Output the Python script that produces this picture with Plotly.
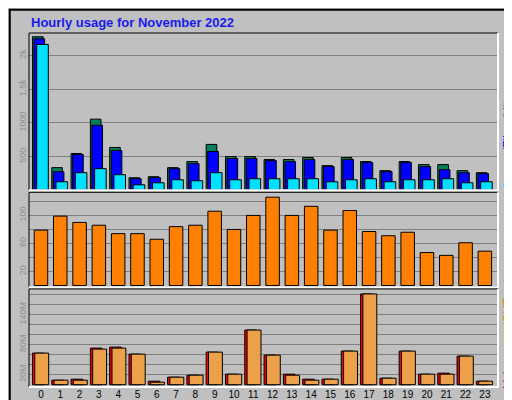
import plotly.graph_objects as go

hours = list(range(24))
hits = [2280,335,545,1055,635,185,200,335,425,680,500,500,455,455,485,365,485,425,290,425,380,380,290,260]
files = [2250,275,530,965,590,170,185,320,395,575,470,470,440,425,455,350,455,410,275,410,350,305,260,245]
pages = [2165,125,260,320,230,80,110,155,140,260,155,170,170,170,170,125,155,170,125,155,155,170,110,125]
sites = [79,99,90,86,74,74,66,84,86,106,80,100,126,100,113,79,107,77,71,76,47,43,61,49]
volume_mb = [63,9,11,73,75,61,7,15,19,65,21,109,59,21,11,11,67,181,13,67,21,23,57,7]
out_mb = [63,9,9,71,73,61,5,15,19,65,21,109,59,19,9,11,67,181,13,67,21,21,57,7]

fig = go.Figure()
ol = dict(color="black", width=1)
def bar(y, color, off, w, ax):
    fig.add_trace(go.Bar(x=hours, y=y, offset=off, width=w, marker=dict(color=color, line=ol),
                         xaxis="x" if ax == "y" else "x" + ax[1:], yaxis=ax, showlegend=False, hoverinfo="skip"))

bar(hits, "#00805c", -0.44, 0.55, "y")
bar(files, "#0000ff", -0.36, 0.55, "y")
bar(pages, "#00e0ff", -0.22, 0.6, "y")
bar(sites, "#ff8000", -0.35, 0.7, "y2")
bar(volume_mb, "#ff0000", -0.44, 0.6, "y3")
bar(out_mb, "#eda04a", -0.32, 0.72, "y3")

xr = [-0.62, 23.68]
gc = "#808080"
tf = dict(family="Liberation Sans", size=9, color="#909090")
common_x = dict(range=xr, showgrid=False, zeroline=False, fixedrange=True, automargin=False)
fig.update_layout(
    width=512, height=400, barmode="overlay",
    paper_bgcolor="#c0c0c0", plot_bgcolor="#c0c0c0",
    margin=dict(l=21, r=22, t=25, b=21, autoexpand=False),
    xaxis=dict(**common_x, anchor="y", showticklabels=False),
    xaxis2=dict(**common_x, anchor="y2", showticklabels=False, matches="x"),
    xaxis3=dict(**common_x, anchor="y3", tickvals=hours, ticks="",
                tickfont=dict(family="Liberation Sans", size=10, color="black")),
    yaxis=dict(domain=[0.556, 1], range=[0, 2335], dtick=500, gridcolor=gc, zeroline=False, automargin=False,
               tickvals=[500,1000,1500,2000], ticktext=["500","1000","1,5k","2k"],
               tickangle=-90, tickfont=tf, fixedrange=True),
    yaxis2=dict(domain=[0.282, 0.55], range=[-2.4, 133], gridcolor=gc, zeroline=False, automargin=False,
                tickvals=[20,40,60,80,100,120], ticktext=["20","","60","","100",""],
                tickangle=-90, tickfont=tf, fixedrange=True),
    yaxis3=dict(domain=[0, 0.277], range=[-4.6, 191], gridcolor=gc, zeroline=False, automargin=False,
                tickvals=[20,40,60,80,100,120,140,160,180], ticktext=["20M","","","80M","","","140M","",""],
                tickangle=-90, tickfont=tf, fixedrange=True),
    font=dict(family="Liberation Sans"),
)
shapes = []
for d in ([0.556,1],[0.282,0.55],[0,0.277]):
    shapes.append(dict(type="rect", xref="paper", yref="paper", x0=0, x1=1, y0=d[0], y1=d[1],
                       line=dict(color="black", width=1)))
    shapes.append(dict(type="path", xref="paper", yref="paper",
                       path=f"M 0,{d[0]} L 1,{d[0]} L 1,{d[1]}", line=dict(color="white", width=2)))
shapes.append(dict(type="rect", xref="paper", yref="paper", x0=-0.041, x1=1.045, y0=-0.058, y1=1.066,
                   line=dict(color="black", width=2)))
fig.update_layout(shapes=shapes)
fig.add_annotation(xref="paper", yref="paper", x=0, y=1.03, xanchor="left", yanchor="middle",
                   showarrow=False, text="<b>Hourly usage for November 2022</b>",
                   font=dict(size=13, color="#1a1aee", family="Liberation Sans"))
fig.add_annotation(xref="paper", yref="paper", x=1.022, y=0.556, xanchor="center", yanchor="bottom",
                   showarrow=False, textangle=-90, font=dict(size=12, family="Liberation Sans"),
                   text="<span style='color:#00e0ff'>Pages</span><span style='color:#0000ff'> /Files</span><span style='color:#00805c'> /Hits_</span>")
fig.add_annotation(xref="paper", yref="paper", x=1.022, y=0.282, xanchor="center", yanchor="bottom",
                   showarrow=False, textangle=-90, font=dict(size=12, family="Liberation Sans", color="#ff8000"),
                   text="Sites")
fig.add_annotation(xref="paper", yref="paper", x=1.022, y=-0.01, xanchor="center", yanchor="bottom",
                   showarrow=False, textangle=-90, font=dict(size=12, family="Liberation Sans"),
                   text="<span style='color:#ff0000'>Volume</span><span style='color:#c0e040'> /IN</span><span style='color:#ff8000'> /OUT</span>")
fig.write_html("out.html")
